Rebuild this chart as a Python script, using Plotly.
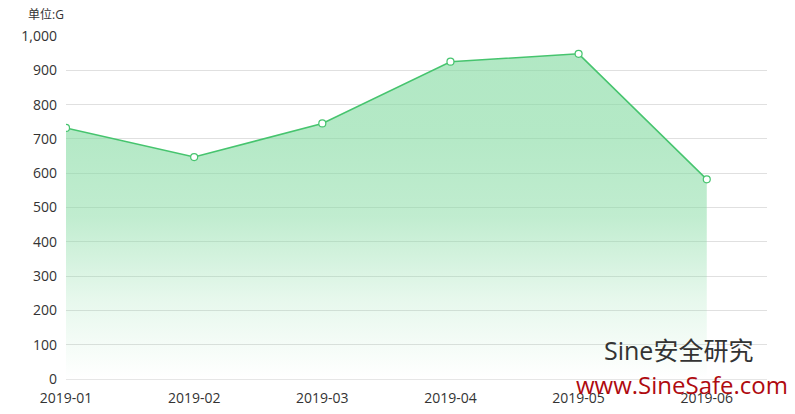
import plotly.graph_objects as go

months = ['2019-01', '2019-02', '2019-03', '2019-04', '2019-05', '2019-06']
usage = [732, 647, 745, 925, 948, 582]
y_ticks = [0, 100, 200, 300, 400, 500, 600, 700, 800, 900, 1000]
y_labels = ['0', '100', '200', '300', '400', '500', '600', '700', '800', '900', '1,000']

FONT = 'Open Sans, Noto Sans CJK SC, sans-serif'
idx = list(range(len(months)))

# page has an 8px body margin, so the figure starts at (8, 8)
OFF = 8
W, H = 795 - OFF, 414 - OFF
L, R, T, B = 66 - OFF, 28, 36 - OFF, 35

fig = go.Figure()

fig.add_trace(go.Scatter(
    x=idx,
    y=usage,
    mode='lines+markers',
    line=dict(color='rgb(70,196,110)', width=1.5),
    marker=dict(size=7, color='white', line=dict(color='rgb(70,196,110)', width=1.2)),
    fill='tozeroy',
    fillgradient=dict(
        type='vertical',
        colorscale=[[0, 'rgba(130,218,160,0)'], [0.25, 'rgba(130,218,160,0.2)'],
                    [0.5, 'rgba(130,218,160,0.5)'], [0.75, 'rgba(130,218,160,0.6)'],
                    [1, 'rgba(130,218,160,0.62)']]
    ),
    hoverinfo='x+y'
))


def px_to_paper(px_x, px_y):
    fx, fy = px_x - OFF, px_y - OFF
    return (fx - L) / (W - L - R), 1 - (fy - T) / (H - T - B)


ax, ay = px_to_paper(26, 15)
bx, by = px_to_paper(678, 350)
cx, cy = px_to_paper(682, 384)

fig.update_layout(
    width=W,
    height=H,
    paper_bgcolor='white',
    plot_bgcolor='white',
    margin=dict(l=L, r=R, t=T, b=B),
    showlegend=False,
    font=dict(family=FONT, color='#333', size=13),
    xaxis=dict(
        range=[0, 5.47],
        tickmode='array',
        tickvals=idx,
        ticktext=months,
        showgrid=False,
        zeroline=False,
        showline=True,
        linecolor='#e6e6e6',
        ticks='',
        automargin=False,
        ticklabelstandoff=6,
        tickfont=dict(size=14, color='#333'),
    ),
    yaxis=dict(
        range=[0, 1000],
        tickmode='array',
        tickvals=y_ticks,
        ticktext=y_labels,
        showgrid=True,
        gridcolor='#e0e0e0',
        gridwidth=1,
        zeroline=False,
        showline=False,
        ticks='',
        automargin=False,
        ticklabelstandoff=8,
        tickfont=dict(size=14, color='#333'),
    ),
    annotations=[
        dict(text='单位:G', x=ax, y=ay, xref='paper', yref='paper', showarrow=False,
             xanchor='left', yanchor='middle', font=dict(size=12, color='#333')),
        dict(text='Sine安全研究', x=bx, y=by, xref='paper', yref='paper', showarrow=False,
             xanchor='center', yanchor='middle', font=dict(size=25, color='#333')),
        dict(text='www.SineSafe.com', x=cx, y=cy, xref='paper', yref='paper', showarrow=False,
             xanchor='center', yanchor='middle', font=dict(size=24, color='rgb(175,10,15)')),
    ],
)

fig.write_html("out.html")
